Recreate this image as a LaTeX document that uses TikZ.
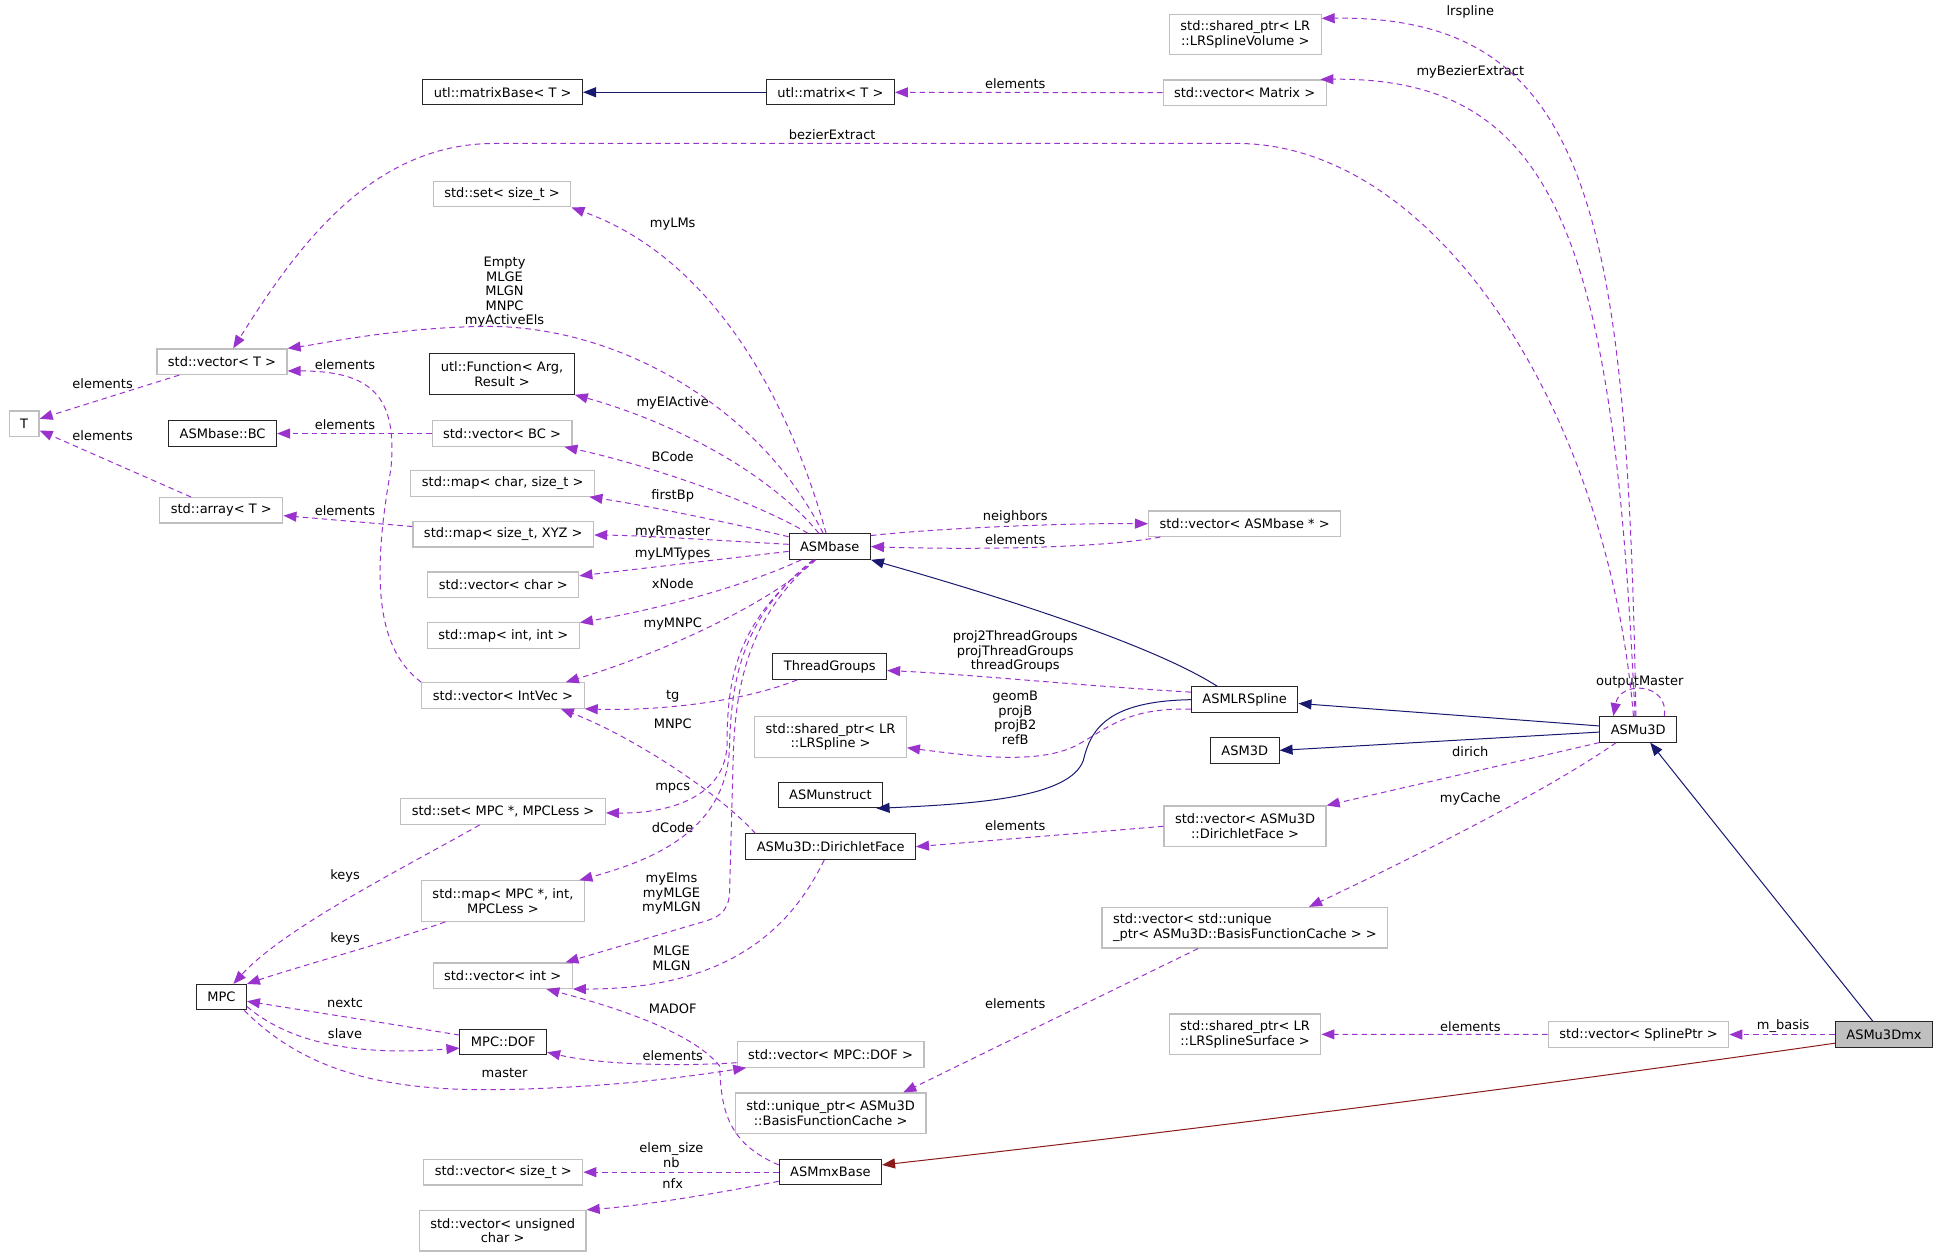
\documentclass[tikz,border=0pt]{standalone}
\usepackage{fontspec}
\setmainfont{DejaVu Sans}
\usetikzlibrary{arrows.meta}

\definecolor{usecol}{HTML}{9A32CD}
\definecolor{inhcol}{HTML}{191970}
\definecolor{privcol}{HTML}{8B1A1A}
\definecolor{extgray}{HTML}{BFBFBF}
\newcommand{\graphfont}{\fontsize{13}{14.5}\selectfont}

\begin{document}
\begin{tikzpicture}[x=1.2366pt, y=-1.2366pt, >={Triangle[length=13pt,width=10pt]}]

% --- Global TikZ Styles for the collaboration graph ---
\tikzset{
    cls/.style={draw=black!85, line width=1pt, fill=white, font=\graphfont,
        inner xsep=11pt, inner ysep=0pt, minimum height=25.5pt},
    ext/.style={cls, draw=extgray, line width=1.2pt},
    twoline/.style={align=center, minimum height=40.5pt},
    focus/.style={cls, fill=extgray},
    lbl/.style={font=\graphfont, inner sep=0pt, align=center},
    use/.style={->, draw=usecol, line width=1pt, dash pattern=on 5.5pt off 4pt},
    inherit/.style={->, draw=inhcol, line width=1pt},
    privinh/.style={->, draw=privcol, line width=1pt}
}

\useasboundingbox (0,0) rectangle (1568,1016);

% Klassen: top rows
\node[ext, twoline] (lrvol) at (1007,28) {std::shared\_ptr< LR\\::LRSplineVolume >};
\node[cls] (mbase) at (406.5,74.6) {utl::matrixBase< T >};
\node[cls] (umat) at (671.5,74.6) {utl::matrix< T >};
\node[ext] (vmat) at (1006.5,75) {std::vector< Matrix >};
\node[ext] (setsz) at (406,157) {std::set< size\_t >};
\node[ext] (vecT) at (179.5,292.5) {std::vector< T >};
\node[cls, twoline] (ufunc) at (406,302.5) {utl::Function< Arg,\\Result >};
\node[ext] (tT) at (19.5,342.6) {T};
\node[cls] (bc) at (180,350.6) {ASMbase::BC};
\node[ext] (vecbc) at (406,350.6) {std::vector< BC >};
\node[ext] (mapcs) at (406.5,391) {std::map< char, size\_t >};
\node[ext] (arrT) at (179,412.7) {std::array< T >};
\node[ext] (mapsx) at (407,432) {std::map< size\_t, XYZ >};

% Klassen: middle rows
\node[cls] (asmbase) at (671,442) {ASMbase};
\node[ext] (vecab) at (1006.5,423.5) {std::vector< ASMbase * >};
\node[ext] (vecch) at (407,472.8) {std::vector< char >};
\node[ext] (mapii) at (407,514) {std::map< int, int >};
\node[cls] (tgroups) at (671,539) {ThreadGroups};
\node[ext] (veciv) at (406.7,562.4) {std::vector< IntVec >};
\node[cls] (lrspl) at (1006.5,565.8) {ASMLRSpline};
\node[ext, twoline] (lrsp) at (671.6,596) {std::shared\_ptr< LR\\::LRSpline >};
\node[cls] (asm3d) at (1006.6,606.8) {ASM3D};
\node[cls] (asmu3d) at (1324.8,589.8) {ASMu3D};
\node[cls] (unstr) at (671.5,643) {ASMunstruct};
\node[ext] (setmpc) at (406.8,656.3) {std::set< MPC *, MPCLess >};
\node[cls] (dface) at (671.7,684.7) {ASMu3D::DirichletFace};
\node[ext, twoline] (vecdf) at (1006.8,668.2) {std::vector< ASMu3D\\::DirichletFace >};
\node[ext, twoline] (mapmpc) at (406.7,728.6) {std::map< MPC *, int,\\MPCLess >};
\node[ext, twoline, align=left] (vecbfc) at (1006.7,750.2) {std::vector< std::unique\\\_ptr< ASMu3D::BasisFunctionCache > >};

% Klassen: bottom rows
\node[ext] (vecint) at (406.5,789) {std::vector< int >};
\node[cls] (mpc) at (179,806.4) {MPC};
\node[ext, twoline] (lrsurf) at (1006.8,836.4) {std::shared\_ptr< LR\\::LRSplineSurface >};
\node[ext] (vecsp) at (1325,836.6) {std::vector< SplinePtr >};
\node[focus] (mx) at (1523.5,836.6) {ASMu3Dmx};
\node[cls] (dof) at (407,842.6) {MPC::DOF};
\node[ext] (vecdof) at (671.6,852.7) {std::vector< MPC::DOF >};
\node[ext, twoline] (ubfc) at (671.7,900.3) {std::unique\_ptr< ASMu3D\\::BasisFunctionCache >};
\node[ext] (vecsz) at (407,947.9) {std::vector< size\_t >};
\node[cls] (mxbase) at (671.5,947.9) {ASMmxBase};
\node[ext, twoline] (vecuc) at (406.5,995.2) {std::vector< unsigned\\char >};

% Edge labels
\node[lbl] (lLrspline) at (1189,10) {lrspline};
\node[lbl] (lBezierEx) at (1189,58) {myBezierExtract};
\node[lbl] (lElemMat) at (821,68) {elements};
\node[lbl] (lBezier) at (673,109) {bezierExtract};
\node[lbl] (lMyLMs) at (544,181) {myLMs};
\node[lbl] (lEmpty) at (408,236.5) {Empty\\MLGE\\MLGN\\MNPC\\myActiveEls};
\node[lbl] (lElemVT) at (279,295) {elements};
\node[lbl] (lElemT1) at (83,310) {elements};
\node[lbl] (lElActive) at (544,326) {myElActive};
\node[lbl] (lElemBC) at (279,343) {elements};
\node[lbl] (lElemT2) at (83,352) {elements};
\node[lbl] (lBCode) at (544,369) {BCode};
\node[lbl] (lFirstBp) at (544,401) {firstBp};
\node[lbl] (lElemArr) at (279,413) {elements};
\node[lbl] (lNeighbors) at (821,418) {neighbors};
\node[lbl] (lRmaster) at (544,430) {myRmaster};
\node[lbl] (lElemAB) at (821,436) {elements};
\node[lbl] (lLMTypes) at (544,448) {myLMTypes};
\node[lbl] (lXNode) at (544,472) {xNode};
\node[lbl] (lMyMNPC) at (544,505) {myMNPC};
\node[lbl] (lThreads) at (821,527) {proj2ThreadGroups\\projThreadGroups\\threadGroups};
\node[lbl] (lOutMaster) at (1326,552) {outputMaster};
\node[lbl] (lTg) at (544,563) {tg};
\node[lbl] (lGeomB) at (821,580.5) {geomB\\projB\\projB2\\refB};
\node[lbl] (lMNPC) at (544,585) {MNPC};
\node[lbl] (lDirich) at (1189,608) {dirich};
\node[lbl] (lMpcs) at (544,637) {mpcs};
\node[lbl] (lMyCache) at (1189,646) {myCache};
\node[lbl] (lElemDF) at (821,668) {elements};
\node[lbl] (lDCode) at (544,669) {dCode};
\node[lbl] (lKeys1) at (279,708) {keys};
\node[lbl] (lMyElms) at (543,722.5) {myElms\\myMLGE\\myMLGN};
\node[lbl] (lKeys2) at (279,759) {keys};
\node[lbl] (lMLGE) at (543,775) {MLGE\\MLGN};
\node[lbl] (lNextc) at (279,811) {nextc};
\node[lbl] (lElemBFC) at (821,812) {elements};
\node[lbl] (lMADOF) at (544,816) {MADOF};
\node[lbl] (lMBasis) at (1442,830) {m\_basis};
\node[lbl] (lElemSurf) at (1189,830) {elements};
\node[lbl] (lSlave) at (279,836) {slave};
\node[lbl] (lElemDOF) at (544,854) {elements};
\node[lbl] (lMaster) at (408,868) {master};
\node[lbl] (lElemSize) at (543,934) {elem\_size\\nb};
\node[lbl] (lNfx) at (544,957) {nfx};

% Inheritance
\draw[inherit] (umat) -- (mbase);
\draw[inherit] (lrspl.154) .. controls (930,520) and (800,480) .. (asmbase.south east);
\draw[inherit] (asmu3d.175) -- (lrspl.-4);
\draw[inherit] (asmu3d.184) -- (asm3d.east);
\draw[inherit] (lrspl.west) .. controls (895,567) and (882,590) .. (876,615)
    .. controls (865,645) and (790,650) .. (unstr.-16);
\draw[inherit] (mx.130) -- (asmu3d.-48);
\draw[privinh] (mx.190) .. controls (1300,870) and (1000,910) .. (mxbase.8);

% Usage from ASMu3D and ASMu3Dmx
\draw[use] (asmu3d.100) .. controls (1316,170) and (1285,12) .. (lrvol.12);
\draw[use] (asmu3d.104) .. controls (1305,200) and (1262,62) .. (vmat.10);
\draw[use] (asmu3d.110) .. controls (1300,330) and (1160,116) .. (1000,116)
    -- (400,116) .. controls (300,116) and (240,200) .. (vecT.50);
\draw[use] (asmu3d.27) .. controls (1350,552) and (1310,550) .. (asmu3d.152);
\draw[use] (asmu3d.south west) -- (vecdf.north east);
\draw[use] (asmu3d.211) .. controls (1250,640) and (1150,690) .. (vecbfc.18.5);
\draw[use] (mx) -- (vecsp);
\draw[use] (vecsp) -- (lrsurf);
\draw[use] (vmat) -- (umat);

% Usage from ASMbase
\draw[use] (asmbase) .. controls (640,330) and (580,210) .. (setsz.south east);
\draw[use] (asmbase) .. controls (615,330) and (500,262) .. (390,264)
    .. controls (320,265) and (260,278) .. (vecT.north east);
\draw[use] (asmbase) .. controls (620,380) and (540,340) .. (ufunc.south east);
\draw[use] (asmbase) .. controls (610,405) and (520,375) .. (vecbc);
\draw[use] (asmbase) .. controls (600,425) and (530,410) .. (mapcs);
\draw[use] (asmbase) .. controls (580,437) and (520,433) .. (mapsx);
\draw[use] (asmbase) -- (vecch);
\draw[use] (asmbase) .. controls (600,475) and (530,493) .. (mapii);
\draw[use] (asmbase) .. controls (620,490) and (530,530) .. (veciv.12);
\draw[use] (asmbase) .. controls (600,500) and (588,540) .. (588,600)
    .. controls (588,645) and (540,658) .. (setmpc);
\draw[use] (asmbase) .. controls (605,495) and (592,540) .. (590,600)
    .. controls (590,670) and (530,695) .. (mapmpc);
\draw[use] (asmbase) .. controls (610,495) and (595,545) .. (593,610) -- (590,722)
    .. controls (589,738) and (580,742) .. (570,745) -- (vecint.12);
\draw[use] (asmbase.15) .. controls (760,427) and (860,423) .. (vecab.west);
\draw[use] (vecab.189) .. controls (880,445) and (760,444) .. (asmbase.east);

% Usage from ASMLRSpline and the faces
\draw[use] (lrspl.172) .. controls (880,555) and (780,545) .. (tgroups.-4);
\draw[use] (lrspl.190) .. controls (910,572) and (895,590) .. (870,603)
    .. controls (840,618) and (790,612) .. (lrsp.-8);
\draw[use] (tgroups) .. controls (600,568) and (530,575) .. (veciv.south east);
\draw[use] (dface.170) .. controls (580,640) and (510,595) .. (veciv.-13);
\draw[use] (dface) .. controls (640,750) and (590,800) .. (vecint.south east);
\draw[use] (vecdf.west) -- (dface.east);
\draw[use] (vecbfc.204) -- (ubfc.16);

% Containers on the left
\draw[use] (vecbc) -- (bc);
\draw[use] (mapsx) -- (arrT);
\draw[use] (arrT) -- (tT);
\draw[use] (vecT) -- (tT);
\draw[use] (veciv.north west) .. controls (305,525) and (300,470) .. (316,380)
    .. controls (322,320) and (300,300) .. (vecT.-8);

% MPC and friends
\draw[use] (setmpc) .. controls (330,700) and (230,750) .. (mpc);
\draw[use] (mapmpc) .. controls (320,760) and (240,782) .. (mpc.north east);
\draw[use] (dof) -- (mpc);
\draw[use] (mpc.-20) .. controls (240,848) and (300,853) .. (dof.188);
\draw[use] (mpc.-30) .. controls (250,870) and (320,883) .. (410,881)
    .. controls (500,879) and (560,870) .. (vecdof.189.5);
\draw[use] (vecdof.185) .. controls (560,862) and (490,862) .. (dof);

% Usage from ASMmxBase
\draw[use] (mxbase.172) .. controls (590,925) and (583,900) .. (582,862)
    .. controls (560,835) and (500,815) .. (vecint.-17);
\draw[use] (mxbase) -- (vecsz);
\draw[use] (mxbase.190.7) .. controls (580,965) and (520,975) .. (vecuc.north east);

\end{tikzpicture}
\end{document}
